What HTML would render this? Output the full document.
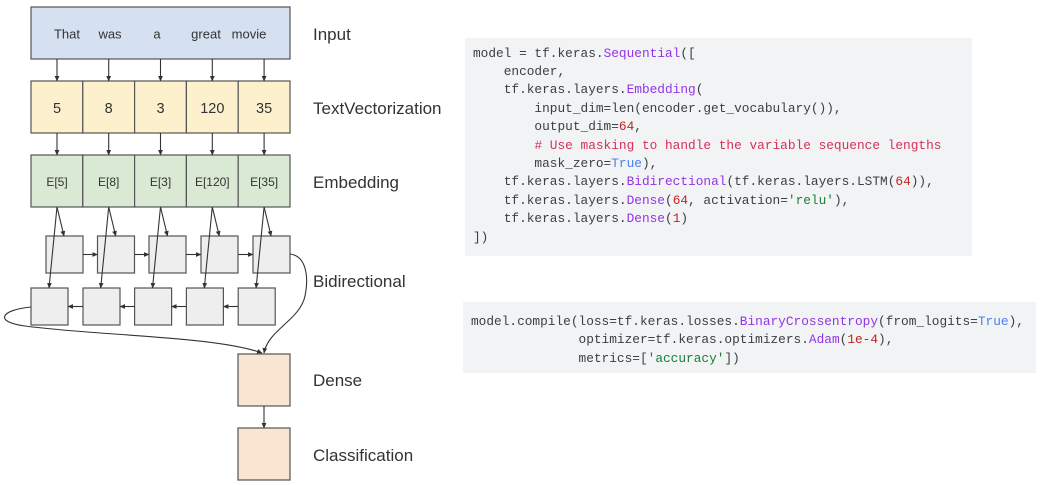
<!DOCTYPE html>
<html><head><meta charset="utf-8"><style>
html,body{margin:0;padding:0;background:#fff;}
body{width:1050px;height:485px;position:relative;overflow:hidden;}
svg{position:absolute;left:0;top:0;}
.code{position:absolute;background:#f1f3f4;font-family:"Liberation Mono",monospace;font-size:12.8px;color:#3c4043;white-space:pre;margin:0;box-sizing:border-box;}
.p{color:#9334e6}.n{color:#c5221f}.c{color:#d6305a}.b{color:#4a80f0}.g{color:#188038}
</style></head><body>
<svg width="1050" height="485" viewBox="0 0 1050 485" xmlns="http://www.w3.org/2000/svg">
<defs>
<marker id="ah" markerWidth="6" markerHeight="6" refX="5" refY="3" orient="auto" markerUnits="userSpaceOnUse">
<path d="M0,0.6 L5.5,3 L0,5.4 Z" fill="#333"/>
</marker>
</defs>
<g font-family="Liberation Sans, Arial, sans-serif" fill="#333">
<!-- Input -->
<rect x="31" y="7" width="259" height="52" fill="#d5e1f1" stroke="#555" stroke-width="1.2"/>
<g font-size="13" text-anchor="middle">
<text x="67" y="38.5">That</text><text x="110" y="38.5">was</text><text x="157" y="38.5">a</text><text x="206" y="38.5">great</text><text x="249" y="38.5">movie</text>
</g>
<!-- TextVectorization -->
<g stroke="#555" stroke-width="1.2" fill="#fdf1cd">
<rect x="31" y="81" width="51.8" height="52"/><rect x="82.8" y="81" width="51.8" height="52"/><rect x="134.6" y="81" width="51.8" height="52"/><rect x="186.4" y="81" width="51.8" height="52"/><rect x="238.2" y="81" width="51.8" height="52"/>
</g>
<g font-size="14.5" text-anchor="middle">
<text x="57" y="113">5</text><text x="108.7" y="113">8</text><text x="160.5" y="113">3</text><text x="212.3" y="113">120</text><text x="264.1" y="113">35</text>
</g>
<!-- Embedding -->
<g stroke="#555" stroke-width="1.2" fill="#d9e9d3">
<rect x="31" y="155" width="51.8" height="52"/><rect x="82.8" y="155" width="51.8" height="52"/><rect x="134.6" y="155" width="51.8" height="52"/><rect x="186.4" y="155" width="51.8" height="52"/><rect x="238.2" y="155" width="51.8" height="52"/>
</g>
<g font-size="12" text-anchor="middle">
<text x="57" y="186">E[5]</text><text x="108.7" y="186">E[8]</text><text x="160.5" y="186">E[3]</text><text x="212.3" y="186">E[120]</text><text x="264.1" y="186">E[35]</text>
</g>
<!-- LSTM rows -->
<g stroke="#555" stroke-width="1.2" fill="#eeeeee">
<rect x="46" y="236" width="37" height="37"/><rect x="97.5" y="236" width="37" height="37"/><rect x="149" y="236" width="37" height="37"/><rect x="201" y="236" width="37" height="37"/><rect x="253" y="236" width="37" height="37"/>
<rect x="31" y="288" width="37" height="37"/><rect x="83" y="288" width="37" height="37"/><rect x="134.6" y="288" width="37" height="37"/><rect x="186.4" y="288" width="37" height="37"/><rect x="238.2" y="288" width="37" height="37"/>
</g>
<!-- Dense / Classification -->
<g stroke="#555" stroke-width="1.2" fill="#f9e5d1">
<rect x="238" y="354" width="52" height="52"/><rect x="238" y="428" width="52" height="52"/>
</g>
<!-- Arrows -->
<g stroke="#333" stroke-width="1.1" fill="none" marker-end="url(#ah)">
<line x1="57" y1="59" x2="57" y2="81"/><line x1="108.7" y1="59" x2="108.7" y2="81"/><line x1="160.5" y1="59" x2="160.5" y2="81"/><line x1="212.3" y1="59" x2="212.3" y2="81"/><line x1="264.1" y1="59" x2="264.1" y2="81"/>
<line x1="57" y1="133" x2="57" y2="155"/><line x1="108.7" y1="133" x2="108.7" y2="155"/><line x1="160.5" y1="133" x2="160.5" y2="155"/><line x1="212.3" y1="133" x2="212.3" y2="155"/><line x1="264.1" y1="133" x2="264.1" y2="155"/>
<!-- diagonals -->
<line x1="57" y1="207" x2="64" y2="236"/><line x1="57" y1="207" x2="49" y2="288"/>
<line x1="108.7" y1="207" x2="115.7" y2="236"/><line x1="108.7" y1="207" x2="100.7" y2="288"/>
<line x1="160.5" y1="207" x2="167.5" y2="236"/><line x1="160.5" y1="207" x2="152.5" y2="288"/>
<line x1="212.3" y1="207" x2="219.3" y2="236"/><line x1="212.3" y1="207" x2="204.3" y2="288"/>
<line x1="264.1" y1="207" x2="271.1" y2="236"/><line x1="264.1" y1="207" x2="256.1" y2="288"/>
<!-- top row forward -->
<line x1="83" y1="254.5" x2="97.5" y2="254.5"/><line x1="134.5" y1="254.5" x2="149" y2="254.5"/><line x1="186" y1="254.5" x2="201" y2="254.5"/><line x1="238" y1="254.5" x2="253" y2="254.5"/>
<!-- bottom row backward -->
<line x1="83" y1="306.5" x2="68" y2="306.5"/><line x1="134.6" y1="306.5" x2="120" y2="306.5"/><line x1="186.4" y1="306.5" x2="171.6" y2="306.5"/><line x1="238.2" y1="306.5" x2="223.4" y2="306.5"/>
<!-- curves -->
<path d="M290,254 C306,256 309,276 305,296 C300,320 268,330 264,353"/>
<path d="M31,307 C0,310 -6,322 25,326 C100,336 215,336 262,353"/>
<line x1="264" y1="406" x2="264" y2="428"/>
</g>
<!-- Labels -->
<g font-size="17" fill="#333">
<text x="313" y="40">Input</text>
<text x="313" y="114">TextVectorization</text>
<text x="313" y="188">Embedding</text>
<text x="313" y="287">Bidirectional</text>
<text x="313" y="386">Dense</text>
<text x="313" y="461">Classification</text>
</g>
</g>
</svg>
<div class="code" style="left:465px;top:38px;width:507px;height:218px;padding:6.6px 0 0 8px;line-height:18.4px;">model = tf.keras.<span class="p">Sequential</span>([
    encoder,
    tf.keras.layers.<span class="p">Embedding</span>(
        input_dim=len(encoder.get_vocabulary()),
        output_dim=<span class="n">64</span>,
        <span class="c"># Use masking to handle the variable sequence lengths</span>
        mask_zero=<span class="b">True</span>),
    tf.keras.layers.<span class="p">Bidirectional</span>(tf.keras.layers.LSTM(<span class="n">64</span>)),
    tf.keras.layers.<span class="p">Dense</span>(<span class="n">64</span>, activation=<span class="g">'relu'</span>),
    tf.keras.layers.<span class="p">Dense</span>(<span class="n">1</span>)
])</div>
<div class="code" style="left:463px;top:302px;width:573px;height:71px;padding:10.7px 0 0 8px;line-height:18.5px;">model.compile(loss=tf.keras.losses.<span class="p">BinaryCrossentropy</span>(from_logits=<span class="b">True</span>),
              optimizer=tf.keras.optimizers.<span class="p">Adam</span>(<span class="n">1e-4</span>),
              metrics=[<span class="g">'accuracy'</span>])</div>
</body></html>
